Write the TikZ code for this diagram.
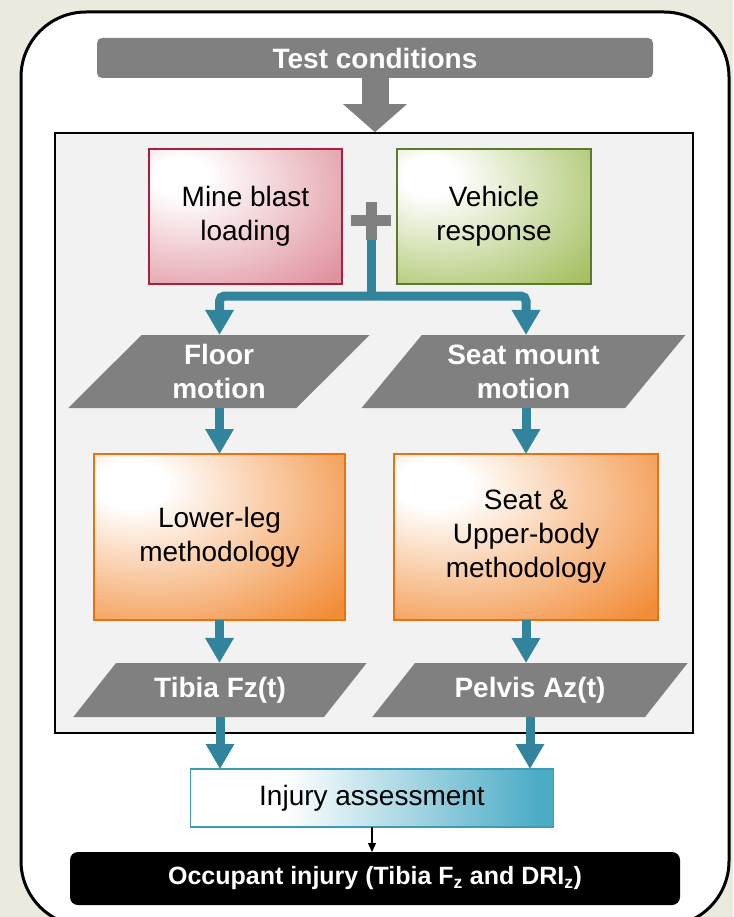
\documentclass[tikz,border=0pt]{standalone}
\usepackage{fontspec}
\setmainfont{Liberation Sans}
\usetikzlibrary{positioning,calc,shapes.geometric,arrows.meta}

\definecolor{bgbeige}{HTML}{ECE9DF}
\definecolor{panelgray}{HTML}{F2F2F2}
\definecolor{headgray}{HTML}{808080}
\definecolor{flowteal}{HTML}{31849B}
\definecolor{blastred}{HTML}{A8203C}
\definecolor{blastpink}{HTML}{E0939F}
\definecolor{vehgreen}{HTML}{5B7A2B}
\definecolor{vehlight}{HTML}{A6C163}
\definecolor{legorange}{HTML}{E8720F}
\definecolor{leglight}{HTML}{F28C38}
\definecolor{injteal}{HTML}{3E9BB5}
\definecolor{injlight}{HTML}{4BACC6}

% the node's box covers the middle 50bp of each shading
\pgfdeclareradialshading{blastglow}{\pgfpoint{-18bp}{16bp}}{color(0bp)=(white); color(7bp)=(white); color(45bp)=(blastpink); color(100bp)=(blastpink)}
\pgfdeclareradialshading{vehglow}{\pgfpoint{-18bp}{16bp}}{color(0bp)=(white); color(7bp)=(white); color(45bp)=(vehlight); color(100bp)=(vehlight)}
\pgfdeclareradialshading{legglow}{\pgfpoint{-19bp}{17bp}}{color(0bp)=(white); color(7bp)=(white); color(46bp)=(leglight); color(100bp)=(leglight)}
\pgfdeclarehorizontalshading{injglow}{100bp}{color(0bp)=(white); color(38bp)=(white); color(73bp)=(injlight); color(100bp)=(injlight)}

\tikzstyle{boxtext}=[font=\fontsize{28}{34}\selectfont, align=center, text=black, inner sep=0pt, outer sep=0pt]
\tikzstyle{boldtext}=[font=\fontsize{28}{34}\selectfont\bfseries, align=center, text=white, inner sep=0pt, outer sep=0pt]
\tikzstyle{grayheader}=[boldtext, fill=headgray, rounded corners=5pt, minimum width=556pt, minimum height=40pt]
\tikzstyle{panel}=[draw=black, line width=1.5pt, fill=panelgray, minimum width=638pt, minimum height=600pt, inner sep=0pt]
\tikzstyle{blastbox}=[boxtext, draw=blastred, line width=1.5pt, shade, shading=blastglow, minimum width=193pt, minimum height=135pt]
\tikzstyle{vehiclebox}=[boxtext, draw=vehgreen, line width=1.5pt, shade, shading=vehglow, minimum width=194pt, minimum height=135pt]
\tikzstyle{methodbox}=[boxtext, draw=legorange, line width=2pt, shade, shading=legglow, minimum height=166pt]
\tikzstyle{signalbox}=[boldtext, fill=headgray, trapezium, trapezium stretches=true]
\tikzstyle{assessbox}=[boxtext, draw=injteal, line width=1.5pt, shade, shading=injglow, minimum width=363pt, minimum height=58pt]
\tikzstyle{resultbox}=[font=\fontsize{25}{30}\selectfont\bfseries, text=white, fill=black, rounded corners=8pt, minimum width=610pt, minimum height=53pt, inner sep=0pt, outer sep=0pt]
\tikzstyle{plussign}=[minimum width=40pt, minimum height=38pt, inner sep=0pt, outer sep=0pt,
  path picture={
    \fill[headgray] ($(path picture bounding box.west)+(0,-5.5)$) rectangle ($(path picture bounding box.east)+(0,5.5)$);
    \fill[headgray] ($(path picture bounding box.north)+(-5.5,0)$) rectangle ($(path picture bounding box.south)+(5.5,0)$);
  }]
\tikzstyle{flowline}=[flowteal, line width=9pt]
\tikzstyle{flowarrow}=[flowteal, line width=9pt, -{Triangle[width=27pt,length=25pt]}]
\tikzstyle{bigarrow}=[headgray, line width=27pt, -{Triangle[width=62pt,length=28pt]}]
\tikzstyle{thinarrow}=[black, line width=1.3pt, -{Triangle[width=8pt,length=9pt]}]

\begin{document}
\begin{tikzpicture}[x=1pt,y=-1pt]
  \useasboundingbox (0,0) rectangle (733,917);
  \fill[bgbeige] (0,0) rectangle (733,917);
  \draw[line width=3pt, fill=white, rounded corners=65pt] (21,12) rectangle (729,926);

  % top of the chart
  \node[grayheader] at (375,58) (tests) {Test conditions};
  \node[panel] at (374,433) (panel) {};
  \draw[bigarrow] (tests.south) -- (tests.south |- panel.north);

  \node[blastbox] at (245.5,216.5) (blast) {Mine blast\\loading};
  \node[vehiclebox] at (494,216.5) (vehicle) {Vehicle\\response};
  \node[plussign] at (371,221) (plus) {};
  \coordinate (split) at (371,296);

  % two branches
  \node[signalbox, minimum width=302pt, minimum height=73pt,
    trapezium left angle=51, trapezium right angle=129] at (219,371.5) (floor) {Floor\\motion};
  \node[signalbox, minimum width=325pt, minimum height=73pt,
    trapezium left angle=50, trapezium right angle=130] at (523.5,371.5) (seatmount) {Seat mount\\motion};
  \node[methodbox, minimum width=251pt] at (219.5,537) (lowerleg) {Lower-leg\\methodology};
  \node[methodbox, minimum width=264pt] at (526,537) (upperbody) {Seat \&\\Upper-body\\methodology};
  \node[signalbox, minimum width=294pt, minimum height=54pt,
    trapezium left angle=44, trapezium right angle=136] at (220,690) (tibia) {Tibia Fz(t)};
  \node[signalbox, minimum width=316pt, minimum height=54pt,
    trapezium left angle=43, trapezium right angle=137] at (530,690) (pelvis) {Pelvis Az(t)};

  % bottom
  \node[assessbox] at (372,798) (injury) {Injury assessment};
  \node[resultbox] at (375,878.5) (occupant) {Occupant injury (Tibia F\textsubscript{z} and DRI\textsubscript{z})};

  \draw[flowline] (plus.south) -- (split);
  \draw[flowarrow, rounded corners=5pt] (split) -| (lowerleg.north |- floor.north);
  \draw[flowarrow, rounded corners=5pt] (split) -| (upperbody.north |- seatmount.north);
  \draw[flowarrow] (lowerleg.north |- floor.south) -- (lowerleg.north);
  \draw[flowarrow] (upperbody.north |- seatmount.south) -- (upperbody.north);
  \draw[flowarrow] (lowerleg.south) -- (lowerleg.south |- tibia.north);
  \draw[flowarrow] (upperbody.south) -- (upperbody.south |- pelvis.north);
  \draw[flowarrow] (tibia.center |- tibia.south) -- (tibia.center |- injury.north);
  \draw[flowarrow] (pelvis.center |- pelvis.south) -- (pelvis.center |- injury.north);
  \draw[thinarrow] (injury.south) -- (injury.south |- occupant.north);
\end{tikzpicture}
\end{document}
